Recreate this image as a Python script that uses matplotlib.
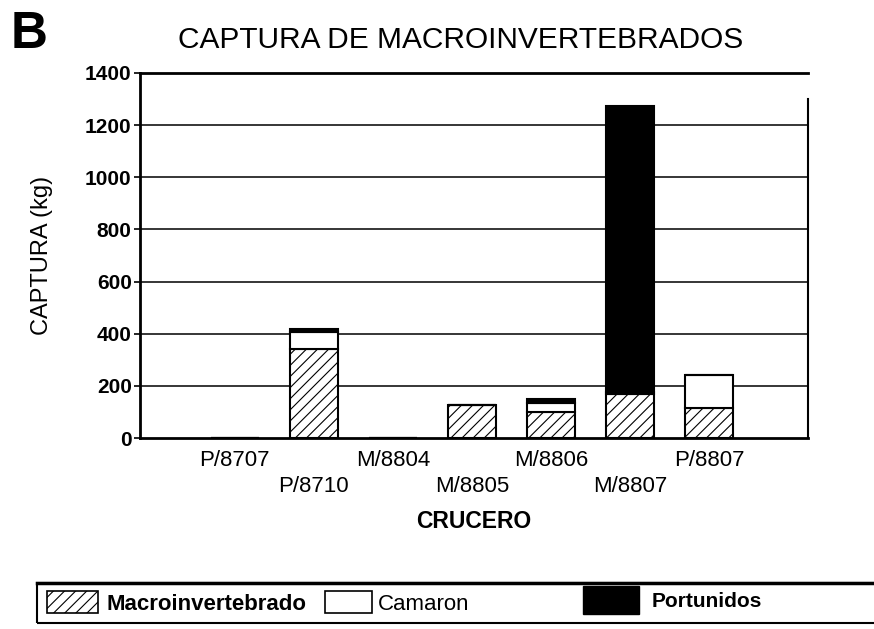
#captura.py
#stacked bars of the catch per cruise

import matplotlib
matplotlib.use('Agg')
import matplotlib.pyplot as plt
from matplotlib.patches import Patch, Rectangle

plt.rcParams['font.family'] = ['Liberation Sans', 'DejaVu Sans']
plt.rcParams['hatch.linewidth'] = 0.8

#data (kg)
cruceros = ['P/8707', 'P/8710', 'M/8804', 'M/8805', 'M/8806', 'M/8807', 'P/8807']
macro = [0, 340, 0, 125, 100, 170, 115]
camaron = [0, 65, 0, 0, 35, 5, 127]
portunidos = [0, 12, 0, 0, 15, 1100, 0]
yticks = [0, 200, 400, 600, 800, 1000, 1200, 1400]

fig = plt.figure(figsize=(8.74, 6.29), dpi=100)
ax = fig.add_axes([140/874, 1-438/629, (808-140)/874, (438-73)/629])

x = list(range(len(cruceros)))
w = 0.61
base2 = [m + c for m, c in zip(macro, camaron)]

for y in yticks[1:-1]:
    ax.axhline(y, color='black', lw=1.1, zorder=1)

ax.bar(x, macro, w, color='white', edgecolor='black', hatch='///', lw=1.5, zorder=3)
ax.bar(x, camaron, w, bottom=macro, color='white', edgecolor='black', lw=1.5, zorder=3)
ax.bar(x, portunidos, w, bottom=base2, color='black', edgecolor='black', lw=1.5, zorder=3)

ax.set_xlim(-1.2, 7.25)
ax.set_ylim(0, 1400)
ax.set_yticks(yticks)
ax.set_yticklabels([str(v) for v in yticks], fontsize=15, fontweight='bold')
ax.tick_params(axis='y', length=4, width=1.2, pad=2)
ax.set_xticks(x)
labs = [c if i % 2 == 0 else '\n' + c for i, c in enumerate(cruceros)]
ax.set_xticklabels(labs, fontsize=16, linespacing=1.3)
ax.tick_params(axis='x', length=0, pad=9)

ax.spines['left'].set_linewidth(2)
ax.spines['bottom'].set_linewidth(2)
ax.spines['top'].set_linewidth(2)
ax.spines['right'].set_linewidth(1.5)
ax.spines['right'].set_bounds(0, 1300)

fig.text(29/874, 1-34/629, 'B', fontsize=37, fontweight='bold', ha='center', va='center')
fig.text(461/874, 1-40/629, 'CAPTURA DE MACROINVERTEBRADOS', fontsize=21.5, ha='center', va='center')
fig.text(42/874, 1-255/629, 'CAPTURA (kg)', fontsize=17, rotation=90, ha='center', va='center')
fig.text(474/874, 1-521/629, 'CRUCERO', fontsize=16.5, fontweight='bold', ha='center', va='center')

#legend box
fig.patches.append(Rectangle((37/874, 1-623/629), 1.0, 40/629, transform=fig.transFigure,
                             fill=False, edgecolor='black', lw=1.5))
fig.add_artist(plt.Line2D([37/874, 1], [1-583/629, 1-583/629], color='black', lw=2.5,
                          transform=fig.transFigure))

h1 = Patch(facecolor='white', edgecolor='black', hatch='///', lw=1.2)
h2 = Patch(facecolor='white', edgecolor='black', lw=1.2)
h3 = Patch(facecolor='black', edgecolor='black')
leg1 = fig.legend([h1], ['Macroinvertebrado'], loc='center left', bbox_to_anchor=(47/874, 1-603/629),
                  frameon=False, borderpad=0, borderaxespad=0, handlelength=2.3, handleheight=1.1,
                  handletextpad=0.4, prop={'size': 16, 'weight': 'bold'})
leg2 = fig.legend([h2], ['Camaron'], loc='center left', bbox_to_anchor=(325/874, 1-603/629),
                  frameon=False, borderpad=0, borderaxespad=0, handlelength=2.1, handleheight=1.1,
                  handletextpad=0.3, prop={'size': 16})
leg3 = fig.legend([h3], ['Portunidos'], loc='center left', bbox_to_anchor=(583/874, 1-600/629),
                  frameon=False, borderpad=0, borderaxespad=0, handlelength=2.7, handleheight=1.7,
                  handletextpad=0.6, prop={'size': 15, 'weight': 'bold'})

fig.savefig('out.png', dpi=100)
